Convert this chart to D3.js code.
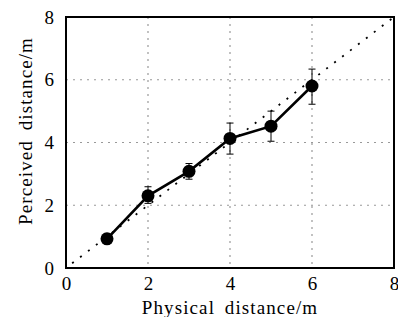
<!DOCTYPE html>
<html>
<head>
<meta charset="utf-8">
<script src="https://cdn.jsdelivr.net/npm/d3@7"></script>
<style>
  body { margin: 0; background: #fff; }
  text { font-family: "Liberation Serif", "DejaVu Serif", serif; fill: #000; }
</style>
</head>
<body>
<svg id="chart"></svg>
<script>
// physical distance (m)
const physical = [1, 2, 3, 4, 5, 6];
// perceived distance (m), mean and error bar half-range
const perceived = [0.93, 2.3, 3.08, 4.13, 4.52, 5.8];
const errLow = [0.15, 0.24, 0.25, 0.5, 0.48, 0.58];
const errHigh = [0.15, 0.29, 0.25, 0.49, 0.48, 0.54];
const ticks = [0, 2, 4, 6, 8];

const W = 398, H = 317;
const margin = { top: 17, right: 4, bottom: 49, left: 66 };
const width = W - margin.left - margin.right;
const height = H - margin.top - margin.bottom;

const svg = d3.select('#chart').attr('width', W).attr('height', H);
const g = svg.append('g').attr('transform', `translate(${margin.left},${margin.top})`);

const x = d3.scaleLinear().domain([0, 8]).range([0, width]);
const y = d3.scaleLinear().domain([0, 8]).range([height, 0]);

// grid
g.selectAll('.vgrid').data([2, 4, 6]).enter().append('line')
  .attr('x1', d => x(d)).attr('x2', d => x(d))
  .attr('y1', 0).attr('y2', height)
  .attr('stroke', '#999').attr('stroke-width', 1.2).attr('stroke-dasharray', '2,5');
g.selectAll('.hgrid').data([2, 4, 6]).enter().append('line')
  .attr('y1', d => y(d)).attr('y2', d => y(d))
  .attr('x1', 0).attr('x2', width)
  .attr('stroke', '#999').attr('stroke-width', 1.2).attr('stroke-dasharray', '2,5');

// y = x reference
g.append('line')
  .attr('x1', x(0.15)).attr('y1', y(0.15))
  .attr('x2', x(8)).attr('y2', y(8))
  .attr('stroke', '#000').attr('stroke-width', 1.8).attr('stroke-dasharray', '2,8');

// axes (labels only)
const xAxis = g.append('g').attr('transform', `translate(0,${height})`)
  .call(d3.axisBottom(x).tickValues(ticks).tickSize(0));
const yAxis = g.append('g')
  .call(d3.axisLeft(y).tickValues(ticks).tickSize(0).tickPadding(12));
[xAxis, yAxis].forEach(a => {
  a.select('.domain').remove();
  a.selectAll('text').style('font-size', '19px').attr('fill', '#000');
});
xAxis.selectAll('text').attr('y', 22).attr('dy', 0);

// data line
const pts = physical.map((d, i) => ({ x: d, y: perceived[i], lo: errLow[i], hi: errHigh[i] }));
g.append('path').datum(pts)
  .attr('fill', 'none').attr('stroke', '#000').attr('stroke-width', 2.6)
  .attr('d', d3.line().x(d => x(d.x)).y(d => y(d.y)));

// error bars
const eb = g.selectAll('.eb').data(pts).enter().append('g');
eb.append('line')
  .attr('x1', d => x(d.x)).attr('x2', d => x(d.x))
  .attr('y1', d => y(d.y + d.hi)).attr('y2', d => y(d.y - d.lo))
  .attr('stroke', '#000').attr('stroke-width', 1);
eb.append('line')
  .attr('x1', d => x(d.x) - 3.5).attr('x2', d => x(d.x) + 3.5)
  .attr('y1', d => y(d.y + d.hi)).attr('y2', d => y(d.y + d.hi))
  .attr('stroke', '#000').attr('stroke-width', 1);
eb.append('line')
  .attr('x1', d => x(d.x) - 3.5).attr('x2', d => x(d.x) + 3.5)
  .attr('y1', d => y(d.y - d.lo)).attr('y2', d => y(d.y - d.lo))
  .attr('stroke', '#000').attr('stroke-width', 1);

// markers
g.selectAll('.pt').data(pts).enter().append('circle')
  .attr('cx', d => x(d.x)).attr('cy', d => y(d.y)).attr('r', 6.5)
  .attr('fill', '#000');

// frame
g.append('rect').attr('width', width).attr('height', height)
  .attr('fill', 'none').attr('stroke', '#000').attr('stroke-width', 2);

// axis titles
svg.append('text')
  .attr('x', 230).attr('y', 314)
  .attr('text-anchor', 'middle').style('font-size', '19px')
  .style('letter-spacing', '1.1px').style('word-spacing', '4px')
  .text('Physical distance/m');
svg.append('text')
  .attr('transform', 'translate(32,131) rotate(-90)')
  .attr('text-anchor', 'middle').style('font-size', '19px')
  .style('letter-spacing', '1.1px').style('word-spacing', '4px')
  .text('Perceived distance/m');
</script>
</body>
</html>
